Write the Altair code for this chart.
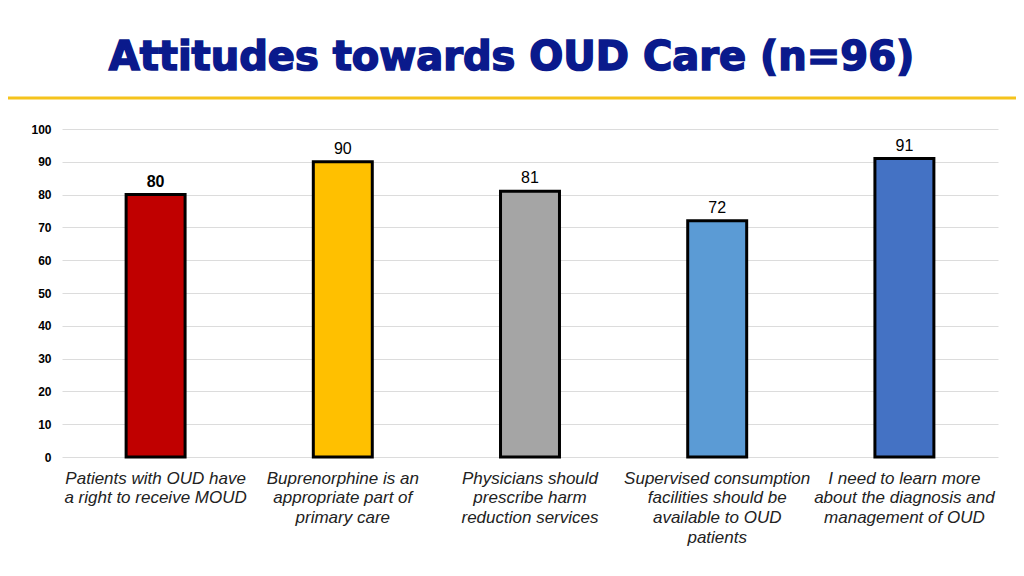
import altair as alt
import pandas as pd

categories = [
    "Patients with OUD have|a right to receive MOUD",
    "Buprenorphine is an|appropriate part of|primary care",
    "Physicians should|prescribe harm|reduction services",
    "Supervised consumption|facilities should be|available to OUD|patients",
    "I need to learn more|about the diagnosis and|management of OUD",
]
values = [80, 90, 81, 72, 91]
colors = ["#c00000", "#ffc000", "#a5a5a5", "#5b9bd5", "#4472c4"]
bold_label = [True, False, False, False, False]
y_ticks = [0, 10, 20, 30, 40, 50, 60, 70, 80, 90, 100]
title_text = "Attitudes towards OUD Care (n=96)"

df = pd.DataFrame({"cat": categories, "val": values, "col": colors, "bold": bold_label})

x_enc = alt.X(
    "cat:N",
    sort=categories,
    scale=alt.Scale(paddingInner=0.685, paddingOuter=0.3425),
    axis=alt.Axis(
        title=None,
        labelAngle=0,
        labelExpr="split(datum.label, '|')",
        labelFont="Liberation Sans",
        labelFontSize=17,
        labelFontStyle="italic",
        labelColor="#222222",
        labelLineHeight=19.7,
        labelPadding=13,
        labelBaseline="top",
        labelLimit=300,
        labelOverlap=False,
        domain=False,
        ticks=False,
        grid=False,
    ),
)
y_enc = alt.Y(
    "val:Q",
    scale=alt.Scale(domain=[0, 100], nice=False),
    axis=alt.Axis(
        title=None,
        values=y_ticks,
        labelFont="Liberation Sans",
        labelFontSize=12,
        labelFontWeight="bold",
        labelColor="#000000",
        labelPadding=11,
        labelOverlap=False,
        domain=False,
        ticks=False,
        grid=True,
        gridColor="#dcdcdc",
        gridWidth=1,
    ),
)

base = alt.Chart(df)

bars = base.mark_bar(stroke="#000000", strokeWidth=3).encode(
    x=x_enc,
    y=y_enc,
    color=alt.Color("col:N", scale=None),
)

labels_bold = base.transform_filter("datum.bold").mark_text(
    baseline="alphabetic", dy=-8, fontSize=16, font="Liberation Sans",
    fontWeight="bold", color="#000000",
).encode(x=x_enc, y=y_enc, text="val:Q")

labels_norm = base.transform_filter("!datum.bold").mark_text(
    baseline="alphabetic", dy=-8, fontSize=16, font="Liberation Sans",
    color="#000000",
).encode(x=x_enc, y=y_enc, text="val:Q")

title_df = pd.DataFrame({"t": [title_text]})
title = alt.Chart(title_df).mark_text(
    font="DejaVu Sans", fontSize=40, fontWeight="bold", color="#0a1a8c",
    stroke="#0a1a8c", strokeWidth=1.6, align="center", baseline="alphabetic",
).encode(x=alt.value(449.5), y=alt.value(-59), text="t:N")

line = alt.Chart(title_df).mark_rule(color="#f5c31c", strokeWidth=3).encode(
    x=alt.value(-60), x2=alt.value(960), y=alt.value(-31)
)

chart = alt.layer(bars, labels_bold, labels_norm, title, line).properties(
    width=936,
    height=328,
    autosize=alt.AutoSizeParams(type="none"),
    padding={"left": 54, "top": 121, "right": 18, "bottom": 111},
).configure_view(stroke=None)

chart.save("out.html", embed_options={"renderer": "svg", "actions": False})
